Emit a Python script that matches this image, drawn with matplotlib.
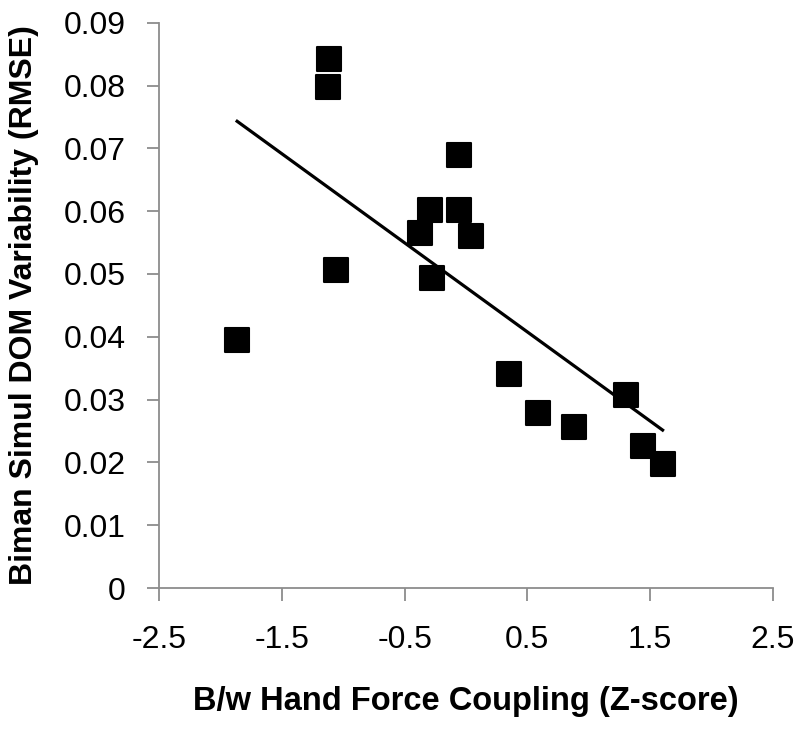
import numpy as np
import matplotlib
matplotlib.use("Agg")
import matplotlib.pyplot as plt

plt.rcParams['font.family'] = ['Liberation Sans', 'DejaVu Sans']

# coupling z-score vs. bimanual variability (RMSE)
coupling = [-1.865, -1.116, -1.124, -1.061, -0.055, -0.293, -0.060, -0.377,
            0.041, -0.277, 0.353, 0.589, 0.877, 1.303, 1.439, 1.602]
rmse = [0.0395, 0.0843, 0.0798, 0.0507, 0.0690, 0.0602, 0.0602, 0.0565,
        0.0561, 0.0493, 0.0341, 0.0278, 0.0257, 0.0307, 0.0226, 0.0197]

xticks = [-2.5, -1.5, -0.5, 0.5, 1.5, 2.5]
yticks = [0, 0.01, 0.02, 0.03, 0.04, 0.05, 0.06, 0.07, 0.08, 0.09]

x = np.array(coupling)
y = np.array(rmse)
slope, icept = np.polyfit(x, y, 1)
xfit = np.array([x.min(), x.max()])

fig = plt.figure(figsize=(8, 7.35), dpi=100)
ax = fig.add_axes([0.199, 0.2, 0.767, 0.769])

ax.scatter(x, y, marker='s', s=300, c='black', edgecolors='black', linewidths=1.5,
           zorder=3)
ax.plot(xfit, slope * xfit + icept, color='black', lw=2.3, zorder=2)

ax.set_xlim(-2.5, 2.5)
ax.set_ylim(0, 0.09)
ax.set_xticks(xticks)
ax.set_xticklabels([str(t) for t in xticks])
ax.set_yticks(yticks)
ax.set_yticklabels(['0'] + ['%.2f' % t for t in yticks[1:]])

for s in ['top', 'right']:
    ax.spines[s].set_visible(False)
for s in ['left', 'bottom']:
    ax.spines[s].set_color('#8c8c8c')
    ax.spines[s].set_linewidth(1.3)

ax.tick_params(axis='both', colors='#8c8c8c', length=9, width=1.3, labelsize=23,
               labelcolor='black')
ax.tick_params(axis='x', pad=18)
ax.tick_params(axis='y', pad=15)

ax.set_xlabel('B/w Hand Force Coupling (Z-score)', fontsize=23.5, fontweight='bold',
              labelpad=22)
ax.set_ylabel('Biman Simul DOM Variability (RMSE)', fontsize=23, fontweight='bold',
              labelpad=18)

fig.savefig('out.png', dpi=100)
